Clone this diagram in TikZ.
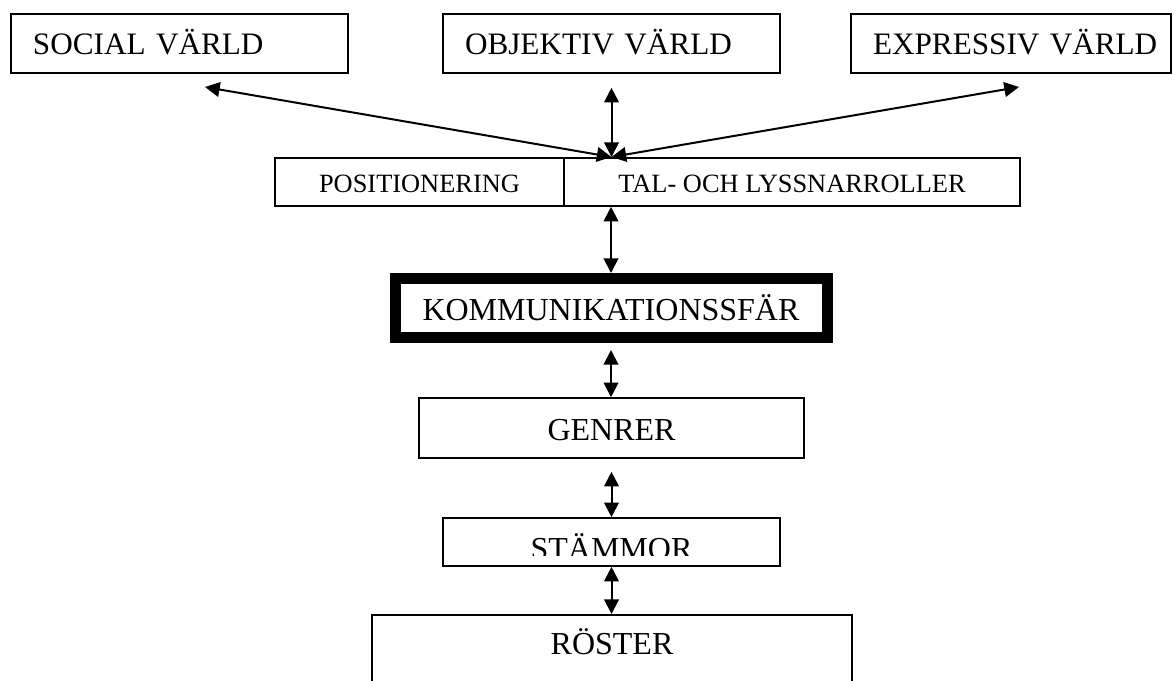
\documentclass[tikz,border=0pt]{standalone}
\usepackage{fontspec}
\setmainfont{Liberation Serif}
\usetikzlibrary{arrows.meta,calc}

\tikzset{
  frame/.style={draw, line width=1.2pt, inner xsep=0pt, inner ysep=0pt, align=center},
  worldbox/.style={draw, line width=1.2pt, inner xsep=0pt, inner ysep=0pt,
    minimum height=44.25pt, align=left, font=\fontsize{23.4}{28}\selectfont,
    text height=17.25pt, text depth=0pt,
    execute at begin node={\hspace*{16.5pt}}},
  rolebox/.style={frame, minimum height=36pt, font=\fontsize{19.8}{23}\selectfont,
    text height=16.5pt, text depth=0pt},
  levelbox/.style={frame, font=\fontsize{24}{28}\selectfont, text height=18pt, text depth=0pt},
  dbl/.style={{Triangle[length=11pt,width=11pt]}-{Triangle[length=11pt,width=11pt]},
    line width=1.5pt},
}

\begin{document}
\begin{tikzpicture}[x=0.75pt, y=-0.75pt]
\useasboundingbox (0,0) rectangle (1174,681);

% the three worlds
\node[worldbox, text width=252.75pt] (social) at (179.5,43.5) {SOCIAL VÄRLD};
\node[worldbox, text width=252.75pt] (objektiv) at (611.5,43.5) {OBJEKTIV VÄRLD};
\node[worldbox, text width=240pt] (expressiv) at (1011,43.5) {EXPRESSIV VÄRLD};

% split box: positioning and speaker/listener roles
\node[rolebox, minimum width=216.75pt] (pos) at (419.5,182) {POSITIONERING};
\node[rolebox, minimum width=342pt] (tal) at (792,182) {TAL- OCH LYSSNARROLLER};

% communication sphere and lower levels
\node[levelbox, line width=8.25pt, minimum width=324pt, minimum height=44.25pt] (komm) at (611,308) {KOMMUNIKATIONSSFÄR};
\node[levelbox, minimum width=288.75pt, minimum height=45pt] (genrer) at (611.5,428) {GENRER};
\node[frame, minimum width=252.75pt, minimum height=36pt] (stammor) at (611.5,542) {};
\begin{scope}
  \clip ($(stammor.north west)+(2,2)$) rectangle ($(stammor.east)+(-2,13)$);
  \node[levelbox, draw=none, inner sep=0pt, text height=25.5pt] (stammortext) at (611.5,542) {STÄMMOR};
\end{scope}
\node[frame, anchor=north, minimum width=360pt, font=\fontsize{24}{28}\selectfont,
  text height=30pt, text depth=45pt] (roster) at (612,614) {RÖSTER};

% meeting point of the world arrows on the role box
\coordinate (hub) at (611.5,157);
\coordinate (socialend) at (205,87);
\coordinate (expressivend) at (1019,87);

% connectors
\draw[dbl] (socialend) -- (hub);
\draw[dbl] (expressivend) -- (hub);
\draw[dbl, shorten <=10.5pt] (objektiv.south) -- (hub);
\draw[dbl] (komm.north |- tal.south) -- (komm.north);
\draw[dbl, shorten <=5.25pt] (komm.south) -- (komm.south |- genrer.north);
\draw[dbl, shorten <=9.75pt] (genrer.south) -- (genrer.south |- stammor.north);
\draw[dbl] (stammor.south) -- (stammor.south |- roster.north);
\end{tikzpicture}
\end{document}
